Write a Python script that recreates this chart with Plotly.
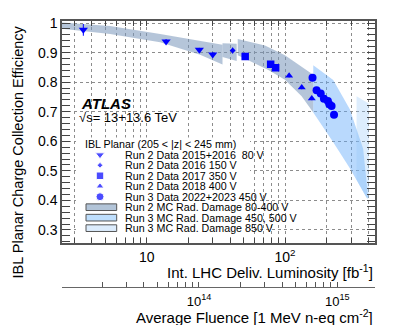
import math
import plotly.graph_objects as go

# ---------------- data ----------------
# integrated delivered luminosity [fb^-1] vs. charge collection efficiency
lumi_80v = [3.48, 13.8, 24.0, 30.0]
cce_80v = [0.977, 0.938, 0.910, 0.894]
err_80v = [0.02, 0.008, 0.006, 0.008]

lumi_150v = [41.8]
cce_150v = [0.907]
err_150v = [0.01]

lumi_350v = [51.5, 78.7, 85.5]
cce_350v = [0.887, 0.861, 0.849]
err_350v = [0.006, 0.006, 0.006]

lumi_400v = [107, 132, 156]
cce_400v = [0.822, 0.782, 0.745]
err_400v = [0.006, 0.006, 0.006]

lumi_450v = [158, 169, 181, 191, 204, 209, 217, 226]
cce_450v = [0.815, 0.773, 0.762, 0.744, 0.736, 0.725, 0.719, 0.690]
err_450v = [0.006] * 8

# MC radiation damage bands (upper / lower edges)
band80_lumi = [2.44, 5.43, 12.5, 24.3, 35.3]
band80_hi = [1.002, 0.99, 0.963, 0.941, 0.927]
band80_lo = [0.981, 0.963, 0.935, 0.893, 0.860]

band150_lumi = [35.3, 44.7]
band150_hi = [0.932, 0.930]
band150_lo = [0.885, 0.872]

band350_lumi_hi = [45.5, 71.6, 99.8, 139.2, 159.9]
band350_hi = [0.946, 0.924, 0.891, 0.846, 0.825]
band350_lumi_lo = [45.5, 54.2, 75.7, 99.8, 131.8, 159.9]
band350_lo = [0.891, 0.874, 0.841, 0.808, 0.752, 0.697]

band450_lumi_hi = [160, 223, 294, 367, 399]
band450_hi = [0.857, 0.807, 0.708, 0.575, 0.409]
band450_lumi_lo = [160, 223, 294, 389]
band450_lo = [0.697, 0.597, 0.509, 0.409]

band850_lumi_hi = [329, 403, 405]
band850_hi = [0.752, 0.728, 0.41]
band850_lumi_lo = [329, 395]
band850_lo = [0.47, 0.403]

# axes
lumi_range = [2.44, 447]
fluence_per_fb = 4.19e12  # 1 MeV n-eq cm^-2 per fb^-1
lumi_ticks = [3, 4, 5, 6, 7, 8, 9, 10, 20, 30, 40, 50, 60, 70, 80, 90, 100, 200, 300, 400]
lumi_ticktext = ["10" if v == 10 else "10<sup>2</sup>" if v == 100 else "" for v in lumi_ticks]
flu_ticks = [k * 1e13 for k in range(2, 10)] + [k * 1e14 for k in range(1, 10)] + [1e15]
flu_ticktext = ["10<sup>14</sup>" if v == 1e14 else "10<sup>15</sup>" if v == 1e15 else ""
                for v in flu_ticks]

legend_labels = [
    "Run 2 Data 2015+2016  80 V",
    "Run 2 Data 2016 150 V",
    "Run 2 Data 2017 350 V",
    "Run 2 Data 2018 400 V",
    "Run 3 Data 2022+2023 450 V",
    "Run 2 MC Rad. Damage 80-400 V",
    "Run 3 MC Rad. Damage 450, 500 V",
    "Run 3 MC Rad. Damage 850 V",
]

BLUE = "rgb(0,0,255)"
C_RUN2 = "rgba(120,150,185,0.55)"
C_450 = "rgba(100,170,250,0.45)"
C_850 = "rgba(150,200,250,0.32)"
FONT = "Liberation Sans, Arial, sans-serif"

fig = go.Figure()


def band(lx_hi, hi, lx_lo, lo, color):
    fig.add_trace(go.Scatter(
        x=list(lx_hi) + list(lx_lo)[::-1],
        y=list(hi) + list(lo)[::-1],
        fill="toself", fillcolor=color, mode="lines",
        line=dict(width=0), showlegend=False, hoverinfo="skip"))


band(band80_lumi, band80_hi, band80_lumi, band80_lo, C_RUN2)
band(band150_lumi, band150_hi, band150_lumi, band150_lo, C_RUN2)
band(band350_lumi_hi, band350_hi, band350_lumi_lo, band350_lo, C_RUN2)
band(band450_lumi_hi, band450_hi, band450_lumi_lo, band450_lo, C_450)
band(band850_lumi_hi, band850_hi, band850_lumi_lo, band850_lo, C_850)

# data points
for lx, ly, le, sym, size in [
    (lumi_80v, cce_80v, err_80v, "triangle-down", 8),
    (lumi_150v, cce_150v, err_150v, "diamond", 4.5),
    (lumi_350v, cce_350v, err_350v, "square", 7.5),
    (lumi_400v, cce_400v, err_400v, "triangle-up", 7),
    (lumi_450v, cce_450v, err_450v, "circle", 8),
]:
    fig.add_trace(go.Scatter(
        x=lx, y=ly, mode="markers",
        marker=dict(symbol=sym, size=size, color=BLUE, line=dict(width=0)),
        error_y=dict(type="data", array=le, color=BLUE, width=0, thickness=1),
        showlegend=False))

# dummy trace that activates the fluence axis
fig.add_trace(go.Scatter(
    x=[lumi_range[0] * fluence_per_fb * 2], y=[0.5], xaxis="x2", yaxis="y",
    mode="markers", marker=dict(opacity=0), showlegend=False, hoverinfo="skip"))

# hand-made legend on a pixel-like overlay axis (x3: screen x, y3: screen y)
# white box hiding the grid behind the legend
fig.add_trace(go.Scatter(
    x=[76, 250, 250, 76, 76], y=[134, 134, 233, 233, 134], xaxis="x3", yaxis="y3",
    mode="lines", fill="toself", fillcolor="white", line=dict(width=0),
    showlegend=False, hoverinfo="skip"))

row0, row_step = 151.7, 10.7
rows = [row0 + i * row_step for i in range(8)]
fig.add_trace(go.Scatter(
    x=[100] * 5, y=rows[:5], xaxis="x3", yaxis="y3", mode="markers",
    marker=dict(symbol=["triangle-down", "diamond", "square", "triangle-up", "circle"],
                size=[8, 4.5, 7.5, 7, 8], color=BLUE),
    showlegend=False, hoverinfo="skip"))

annotations = []
shapes = []
annotations.append(dict(xref="x3", yref="y3", x=83.3, y=141, xanchor="left", yanchor="middle",
                        text="IBL Planar (205 &lt; |z| &lt; 245 mm)", showarrow=False,
                        font=dict(size=10.7, color="black")))
for r, lab in zip(rows, legend_labels):
    annotations.append(dict(xref="x3", yref="y3", x=123.3, y=r, xanchor="left", yanchor="middle",
                            text=lab, showarrow=False, font=dict(size=10.7, color="black")))
for r, col in zip(rows[5:], ["rgb(178,196,216)", "rgb(190,222,252)", "rgb(220,236,252)"]):
    shapes.append(dict(type="rect", xref="x3", yref="y3", x0=86, x1=116.7, y0=r - 3.4, y1=r + 3.4,
                       fillcolor=col, line=dict(color="#555", width=1), layer="above"))

# ATLAS label
annotations.append(dict(xref="x3", yref="y3", x=79, y=99, xanchor="left", yanchor="middle",
                        text="<b><i>ATLAS</i></b>", showarrow=False, font=dict(size=15, color="black")))
annotations.append(dict(xref="x3", yref="y3", x=77, y=113.5, xanchor="left", yanchor="middle",
                        text="√s= 13+13.6 TeV", showarrow=False, font=dict(size=13, color="black")))

# axis titles (right-aligned, ROOT style)
annotations.append(dict(xref="paper", yref="paper", x=-0.1406, y=0.993, xanchor="center", yanchor="top",
                        textangle=-90, text="IBL Planar Charge Collection Efficiency", showarrow=False,
                        font=dict(size=14.5, color="black")))
annotations.append(dict(xref="paper", yref="paper", x=1, y=0.085, xanchor="right", yanchor="middle",
                        text="Int. LHC Deliv. Luminosity [fb<sup>-1</sup>]", showarrow=False,
                        font=dict(size=15, color="black")))
annotations.append(dict(xref="paper", yref="paper", x=1, y=-0.079, xanchor="right", yanchor="middle",
                        text="Average Fluence [1 MeV n-eq cm<sup>-2</sup>]", showarrow=False,
                        font=dict(size=15, color="black")))

lx0, lx1 = math.log10(lumi_range[0]), math.log10(lumi_range[1])
fx0 = math.log10(lumi_range[0] * fluence_per_fb)
fx1 = math.log10(lumi_range[1] * fluence_per_fb)

GRID = dict(showgrid=True, gridcolor="#8c8c8c", gridwidth=1, griddash="dot")

# the page body adds an 8px margin, so the figure is 8px smaller than the window
fig.update_layout(
    width=387, height=317,
    margin=dict(l=54, r=20, t=7, b=30),
    paper_bgcolor="white", plot_bgcolor="white",
    font=dict(family=FONT, color="black"),
    showlegend=False,
    xaxis=dict(type="log", range=[lx0, lx1], domain=[0, 1], anchor="y",
               tickmode="array", tickvals=lumi_ticks, ticktext=lumi_ticktext,
               ticks="inside", ticklen=5, tickcolor="#444", tickfont=dict(size=14),
               showline=True, linecolor="#555", linewidth=1.5, mirror="allticks",
               **GRID),
    yaxis=dict(range=[0.255, 1.007], domain=[0.189, 1], anchor="x",
               tick0=0, dtick=0.1, ticks="inside", ticklen=8, tickcolor="#444",
               tickfont=dict(size=14),
               showline=True, linecolor="#555", linewidth=1.5, mirror="allticks",
               minor=dict(dtick=0.02, ticks="inside", ticklen=4, tickcolor="#444", showgrid=False),
               **GRID),
    xaxis2=dict(type="log", range=[fx0, fx1], overlaying="x", anchor="free", position=0.0286,
                side="bottom", tickmode="array", tickvals=flu_ticks, ticktext=flu_ticktext,
                ticks="inside", ticklen=5, tickcolor="#555", tickfont=dict(size=13),
                ticklabelstandoff=2,
                showline=True, linecolor="#666", linewidth=1, showgrid=False),
    xaxis3=dict(range=[62, 375], overlaying="x", anchor="y3", visible=False),
    yaxis3=dict(range=[242, 15], overlaying="y", anchor="x3", visible=False),
    annotations=annotations,
    shapes=shapes,
)

fig.write_html("out.html")
